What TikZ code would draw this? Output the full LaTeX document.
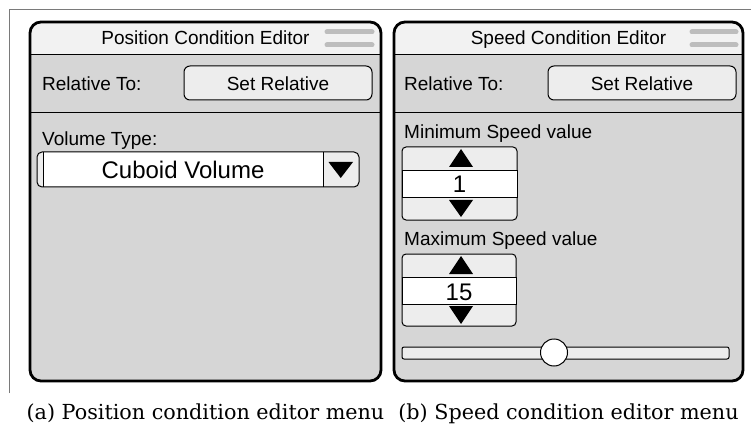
\documentclass[tikz,border=0pt]{standalone}
\usepackage{fontspec}
\setmainfont{Liberation Sans}
\newfontfamily\capfont{DejaVu Serif}
\definecolor{bodygray}{HTML}{D6D6D6}
\definecolor{titlegray}{HTML}{F2F2F2}
\definecolor{btngray}{HTML}{EDEDED}
\definecolor{gripgray}{HTML}{BDBDBD}
\definecolor{framegray}{HTML}{7A7A7A}
\begin{document}
\begin{tikzpicture}[x=1pt,y=-1pt,
  ui/.style={font=\fontsize{19}{22}\selectfont, inner sep=0pt},
  big/.style={font=\fontsize{24}{28}\selectfont, inner sep=0pt},
  captext/.style={font=\capfont\fontsize{20.7}{24}\selectfont, inner sep=0pt},
  panelborder/.style={line width=2.8pt, rounded corners=11pt},
  thinline/.style={line width=0.85pt},
  btn/.style={line width=1pt, fill=btngray, rounded corners=6pt},
  grip/.style={line width=5pt, line cap=round, draw=gripgray},
  tri/.style={fill=black}
]
\useasboundingbox (0,0) rectangle (751,430);
\fill[white] (0,0) rectangle (751,430);

% outer frame of the figure
\draw[framegray, line width=0.8pt] (9,393) -- (9,9) -- (751,9);

% ---------- (a) position condition editor ----------
\begin{scope}
  \clip[rounded corners=11pt] (30,22) rectangle (381,381);
  \fill[bodygray] (30,22) rectangle (381,381);
  \fill[titlegray] (30,22) rectangle (381,54);
\end{scope}
\draw[thinline] (30,54) -- (381,54);
\draw[thinline] (30,112) -- (381,112);
\draw[panelborder] (30,22) rectangle (381,381);
\draw[grip] (327,32) -- (372,32);
\draw[grip] (327,45) -- (372,45);
\node[ui, anchor=base] (titleA) at (205.5,45) {Position Condition Editor};

\node[ui, anchor=base west] (relA) at (42,91) {Relative To:};
\draw[btn] (184,66) rectangle (372,100);
\node[ui, anchor=base] (setA) at (278,91) {Set Relative};

\node[ui, anchor=base west] (volA) at (42,146) {Volume Type:};
\begin{scope}
  \clip[rounded corners=5pt] (37,152) rectangle (359,187);
  \fill[white] (37,152) rectangle (359,187);
  \fill[btngray] (37,152) rectangle (43,187);
  \fill[btngray] (323,152) rectangle (359,187);
\end{scope}
\draw[thinline] (43,152) -- (43,187);
\draw[thinline] (323,152) -- (323,187);
\draw[line width=1pt, rounded corners=5pt] (37,152) rectangle (359,187);
\fill[tri] (328.5,162) -- (353,162) -- (340.75,178) -- cycle;
\node[big, anchor=base] (cuboid) at (183,178.5) {Cuboid Volume};

\node[captext, anchor=base] (capA) at (205.5,419) {(a) Position condition editor menu};

% ---------- (b) speed condition editor ----------
\begin{scope}
  \clip[rounded corners=11pt] (394,22) rectangle (743,381);
  \fill[bodygray] (394,22) rectangle (743,381);
  \fill[titlegray] (394,22) rectangle (743,54);
\end{scope}
\draw[thinline] (394,54) -- (743,54);
\draw[thinline] (394,112) -- (743,112);
\draw[panelborder] (394,22) rectangle (743,381);
\draw[grip] (692,32) -- (736,32);
\draw[grip] (692,45) -- (736,45);
\node[ui, anchor=base] (titleB) at (568.5,45) {Speed Condition Editor};

\node[ui, anchor=base west] (relB) at (404,91) {Relative To:};
\draw[btn] (548,66) rectangle (736,100);
\node[ui, anchor=base] (setB) at (642,91) {Set Relative};

% minimum speed spinner
\node[ui, anchor=base west] (minB) at (404,139) {Minimum Speed value};
\draw[line width=1pt, fill=btngray, rounded corners=4pt] (402,147) rectangle (517,220);
\draw[thinline, fill=white] (402,170) rectangle (517,197);
\fill[tri] (449,167) -- (473,167) -- (461,149) -- cycle;
\fill[tri] (449,200) -- (473,200) -- (461,217) -- cycle;
\node[big, anchor=base] (minval) at (459.5,193) {1};

% maximum speed spinner
\node[ui, anchor=base west] (maxB) at (404,245) {Maximum Speed value};
\draw[line width=1pt, fill=btngray, rounded corners=4pt] (402,254) rectangle (516,326);
\draw[thinline, fill=white] (402,277) rectangle (516,304);
\fill[tri] (449,274) -- (473,274) -- (461,256) -- cycle;
\fill[tri] (449,306) -- (473,306) -- (461,324) -- cycle;
\node[big, anchor=base] (maxval) at (459,300.5) {15};

% slider
\draw[line width=1pt, fill=btngray, rounded corners=2pt] (402,347) rectangle (729,359);
\draw[line width=1pt, fill=white] (554,352.5) circle (13.5);

\node[captext, anchor=base] (capB) at (568.5,419) {(b) Speed condition editor menu};
\end{tikzpicture}
\end{document}
